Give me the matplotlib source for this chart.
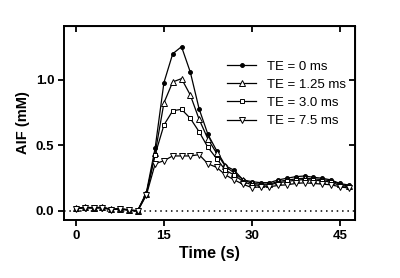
import matplotlib
matplotlib.use("Agg")
import matplotlib.pyplot as plt

plt.rcParams["font.family"] = ["Liberation Sans", "DejaVu Sans"]

# sample times (s)
time_s = [0.0, 1.5, 3.0, 4.5, 6.0, 7.5, 9.0, 10.5, 12.0, 13.5, 15.0, 16.5,
          18.0, 19.5, 21.0, 22.5, 24.0, 25.5, 27.0, 28.5, 30.0, 31.5, 33.0,
          34.5, 36.0, 37.5, 39.0, 40.5, 42.0, 43.5, 45.0, 46.5]

# AIF (mM) for each echo time
aif_te0 = [0.02, 0.028, 0.025, 0.028, 0.013, 0.018, 0.008, 0.002, 0.14, 0.48,
           0.98, 1.20, 1.254, 1.06, 0.78, 0.585, 0.46, 0.345, 0.31, 0.237,
           0.224, 0.216, 0.216, 0.237, 0.25, 0.262, 0.267, 0.257, 0.25,
           0.237, 0.21, 0.198]
aif_te125 = [0.02, 0.027, 0.025, 0.027, 0.012, 0.017, 0.008, 0.001, 0.13, 0.44,
             0.825, 0.985, 1.01, 0.885, 0.70, 0.55, 0.44, 0.34, 0.29, 0.24,
             0.21, 0.205, 0.205, 0.225, 0.235, 0.245, 0.25, 0.245, 0.24,
             0.23, 0.205, 0.19]
aif_te30 = [0.019, 0.026, 0.024, 0.026, 0.011, 0.016, 0.007, 0.0, 0.13, 0.43,
            0.656, 0.765, 0.776, 0.707, 0.605, 0.486, 0.40, 0.31, 0.275,
            0.224, 0.20, 0.195, 0.20, 0.215, 0.225, 0.235, 0.24, 0.235, 0.23,
            0.22, 0.195, 0.185]
aif_te75 = [0.018, 0.025, 0.022, 0.024, 0.01, 0.015, 0.006, -0.002, 0.12, 0.36,
            0.384, 0.42, 0.42, 0.42, 0.43, 0.36, 0.333, 0.275, 0.237, 0.204,
            0.178, 0.185, 0.185, 0.195, 0.20, 0.21, 0.215, 0.21, 0.205, 0.20,
            0.185, 0.175]

series = [
    (aif_te0, "TE = 0 ms", dict(marker="o", ms=2.8, mfc="black")),
    (aif_te125, "TE = 1.25 ms", dict(marker="^", ms=4.8, mfc="white")),
    (aif_te30, "TE = 3.0 ms", dict(marker="s", ms=3.5, mfc="white")),
    (aif_te75, "TE = 7.5 ms", dict(marker="v", ms=4.8, mfc="white")),
]

fig = plt.figure(figsize=(4.0, 2.78), dpi=100)
ax = fig.add_axes([0.16, 0.2086, 0.7275, 0.6979])

ax.axhline(0, color="black", linestyle=(0, (1, 2.5)), linewidth=1.1, zorder=1)
for y, label, style in series:
    ax.plot(time_s, y, color="black", linewidth=0.9, mec="black", mew=0.7,
            label=label, zorder=3, **style)

ax.set_xlim(-2.05, 47.6)
ax.set_ylim(-0.069, 1.412)
ax.set_xticks([0, 15, 30, 45])
ax.set_yticks([0.0, 0.5, 1.0])
ax.set_yticklabels(["0.0", "0.5", "1.0"])

for s in ax.spines.values():
    s.set_linewidth(1.4)
ax.tick_params(axis="both", which="major", direction="out", length=4,
               width=1.3, labelsize=9.5, pad=3)
for lab in ax.get_xticklabels() + ax.get_yticklabels():
    lab.set_fontweight("bold")

# mirrored inward ticks on top and right
sec_x = ax.secondary_xaxis("top")
sec_x.set_xticks([0, 15, 30, 45])
sec_x.tick_params(direction="in", length=4, width=1.3, labeltop=False)
sec_y = ax.secondary_yaxis("right")
sec_y.set_yticks([0.5, 1.0])
sec_y.tick_params(direction="in", length=4, width=1.3, labelright=False)

ax.set_xlabel("Time (s)", fontsize=11.5, fontweight="bold", labelpad=3)
ax.set_ylabel("AIF (mM)", fontsize=10.5, fontweight="bold", labelpad=4)

ax.legend(loc="upper right", bbox_to_anchor=(1.0, 0.87), frameon=False,
          fontsize=9.5, handlelength=2.2, handletextpad=0.8, labelspacing=0.45,
          borderpad=0.2)

fig.savefig("out.png", dpi=100)
